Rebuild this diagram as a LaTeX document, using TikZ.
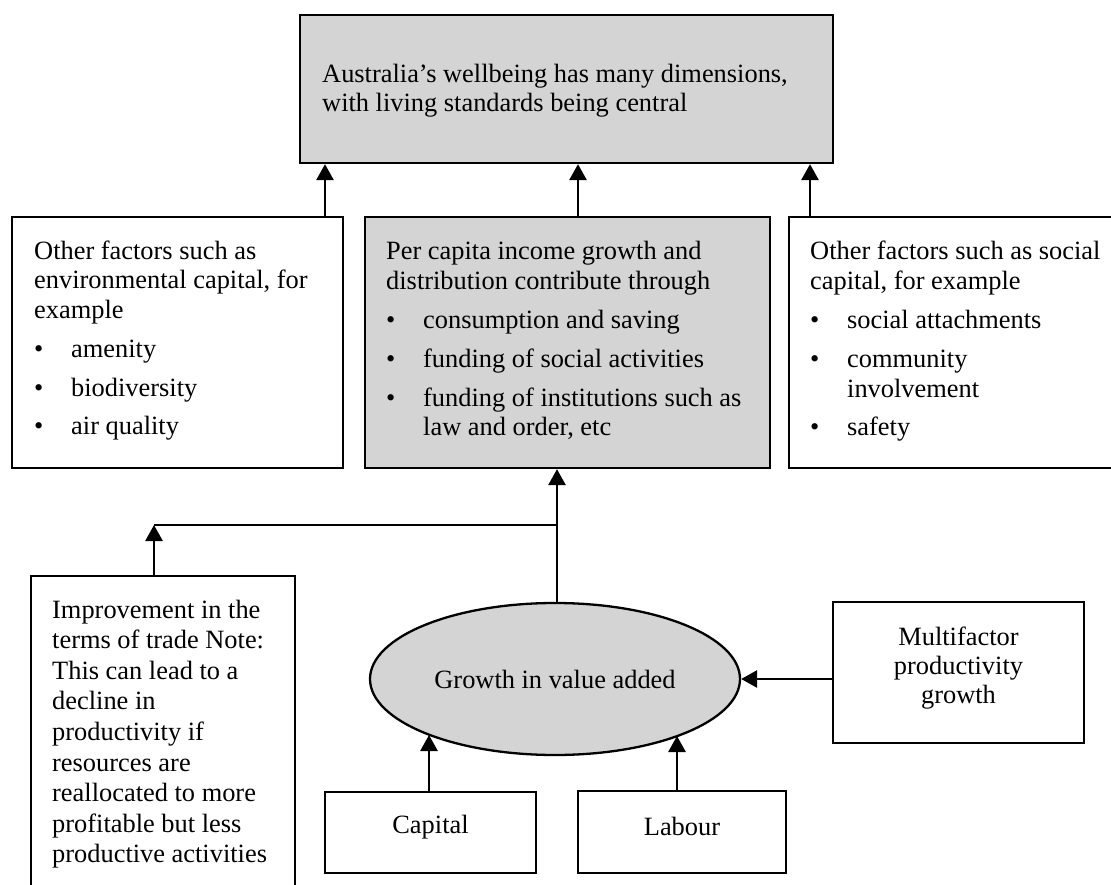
\documentclass[tikz,border=0pt]{standalone}
\usepackage{fontspec}
\setmainfont{Liberation Serif}
\usetikzlibrary{arrows.meta,shapes.geometric}
\begin{document}
\begin{tikzpicture}[x=1pt,y=-1pt,
  txt/.style={anchor=base west,inner sep=0pt,font=\fontsize{26.4}{29.5}\selectfont},
  ctxt/.style={anchor=base,inner sep=0pt,font=\fontsize{26.4}{29.5}\selectfont},
  box/.style={draw,line width=2.3pt,rectangle,inner sep=0pt},
  shade/.style={fill=black!17},
  arr/.style={line width=2.8pt,-{Triangle[width=17pt,length=16pt]}},
  ln/.style={line width=2.8pt}]
\useasboundingbox (0,0) rectangle (1111,885);
\clip (0,0) rectangle (1111,885);
\fill[white] (0,0) rectangle (1111,885);

% boxes
\node[box,shade,minimum width=533pt,minimum height=148pt] (top) at (566.5,89) {};
\node[box,minimum width=331pt,minimum height=251pt] (lbox) at (177.5,342.5) {};
\node[box,shade,minimum width=405pt,minimum height=251pt] (mbox) at (567.5,342.5) {};
\node[box,minimum width=331pt,minimum height=251pt] (rbox) at (954.5,342.5) {};
\node[box,minimum width=264pt,minimum height=330pt] (ibox) at (163,741) {};
\node[box,shade,shape=ellipse,minimum width=370pt,minimum height=152pt,
      font=\fontsize{26.4}{29.5}\selectfont] (ell) at (555,679) {Growth in value added};
\node[box,minimum width=211pt,minimum height=81pt] (cap) at (430.5,832.5) {};
\node[box,minimum width=208pt,minimum height=82pt] (lab) at (682,832) {};
\node[box,minimum width=251pt,minimum height=141pt] (mfp) at (958.5,672.5) {};

% connectors
\coordinate (a1) at (325,0);
\coordinate (a2) at (578,0);
\coordinate (a3) at (810,0);
\draw[arr] (lbox.north -| a1) -- (top.south -| a1);
\draw[arr] (mbox.north -| a2) -- (top.south -| a2);
\draw[arr] (rbox.north -| a3) -- (top.south -| a3);
\coordinate (jx) at (557,525);
\coordinate (jl) at (154,525);
\draw[arr] (jx |- ell.north) -- (jx |- mbox.south);
\draw[ln] (jl) -- (jx);
\draw[arr] (ibox.north -| jl) -- (jl);
\coordinate (e1) at (429,735);
\coordinate (e2) at (677,736);
\draw[arr] (cap.north -| e1) -- (e1);
\draw[arr] (lab.north -| e2) -- (e2);
\draw[arr] (mfp.west |- ell.east) -- (ell.east);

% top text
\node[txt] (tt1) at (322,83) {Australia’s wellbeing has many dimensions,};
\node[txt] (tt2) at (322,112) {with living standards being central};

% left box text
\node[txt] (l1) at (34,259.5) {Other factors such as};
\node[txt] (l2) at (34,289) {environmental capital, for};
\node[txt] (l3) at (34,318.5) {example};
\node[txt] (lb1) at (34,357) {•};
\node[txt] (lb2) at (34,396) {•};
\node[txt] (lb3) at (34,434.5) {•};
\node[txt] (li1) at (71,357) {amenity};
\node[txt] (li2) at (71,396) {biodiversity};
\node[txt] (li3) at (71,434.5) {air quality};

% middle box text
\node[txt] (m1) at (386,260) {Per capita income growth and};
\node[txt] (m2) at (386,289.5) {distribution contribute through};
\node[txt] (mb1) at (386,329) {•};
\node[txt] (mb2) at (386,367.5) {•};
\node[txt] (mb3) at (386,406) {•};
\node[txt] (mi1) at (423,329) {consumption and saving};
\node[txt] (mi2) at (423,367.5) {funding of social activities};
\node[txt] (mi3) at (423,406) {funding of institutions such as};
\node[txt] (mi4) at (423,435.5) {law and order, etc};

% right box text
\node[txt] (r1) at (810,260) {Other factors such as social};
\node[txt] (r2) at (810,289.5) {capital, for example};
\node[txt] (rb1) at (810,329) {•};
\node[txt] (rb2) at (810,367.5) {•};
\node[txt] (rb3) at (810,435) {•};
\node[txt] (ri1) at (847,329) {social attachments};
\node[txt] (ri2) at (847,367.5) {community};
\node[txt] (ri3) at (847,397) {involvement};
\node[txt] (ri4) at (847,435) {safety};

% improvement box text
\node[txt] (i1) at (52,618) {Improvement in the};
\node[txt] (i2) at (52,648.6) {terms of trade Note:};
\node[txt] (i3) at (52,679.2) {This can lead to a};
\node[txt] (i4) at (52,709.8) {decline in};
\node[txt] (i5) at (52,740.4) {productivity if};
\node[txt] (i6) at (52,771) {resources are};
\node[txt] (i7) at (52,801.6) {reallocated to more};
\node[txt] (i8) at (52,832.2) {profitable but less};
\node[txt] (i9) at (52,862.8) {productive activities};

% multifactor, capital, labour
\node[ctxt] (f1) at (958.5,645) {Multifactor};
\node[ctxt] (f2) at (958.5,674) {productivity};
\node[ctxt] (f3) at (958.5,703) {growth};
\node[ctxt] (ct) at (430.5,833) {Capital};
\node[ctxt] (lt) at (682,835) {Labour};
\end{tikzpicture}
\end{document}
